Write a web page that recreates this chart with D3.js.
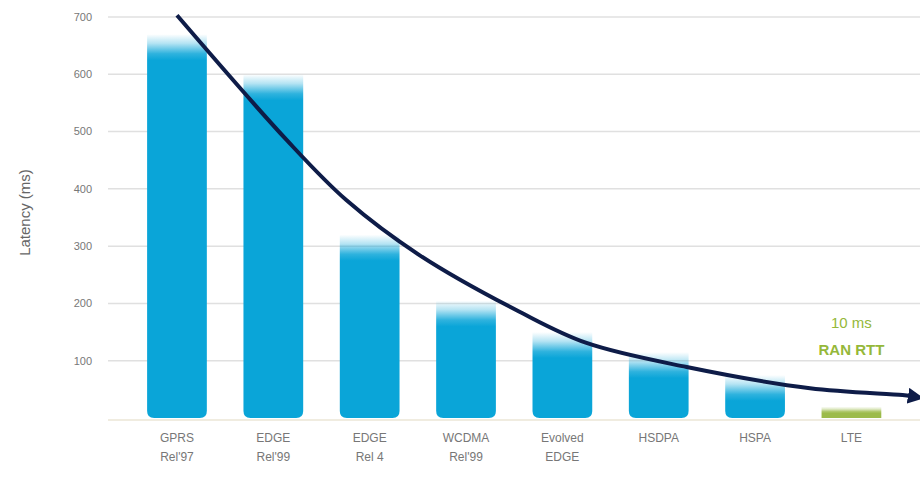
<!DOCTYPE html>
<html>
<head>
<meta charset="utf-8">
<script src="https://cdn.jsdelivr.net/npm/d3@7"></script>
<style>
  body { margin: 0; background: #fff; }
  svg { font-family: "Liberation Sans", Arial, sans-serif; }
</style>
</head>
<body>
<div id="chart"></div>
<script>
// bar data
const techs = ["GPRS\nRel'97", "EDGE\nRel'99", "EDGE\nRel 4", "WCDMA\nRel'99", "Evolved\nEDGE", "HSDPA", "HSPA", "LTE"];
const latency = [670, 600, 320, 205, 150, 115, 75, 20];
const yTicks = [100, 200, 300, 400, 500, 600, 700];

// trend arrow, x in bar-index units, y in ms
const trendIdx = [0, 1.14, 1.76, 2.52, 3.56, 4.25, 5.29, 6.57, 7.53, 7.62];
const trendVal = [703, 485, 380, 284, 185, 131, 89, 52, 40, 38];

const width = 920, height = 492;

const svg = d3.select("#chart").append("svg")
  .attr("width", width)
  .attr("height", height);

const x = d3.scaleBand()
  .domain(techs)
  .range([128.8, 899.6])
  .paddingInner(0.38)
  .paddingOuter(0.19);

const y = d3.scaleLinear().domain([0, 700]).range([418, 17]);

// index -> pixel for the trend line
const xi = d3.scaleLinear()
  .domain([0, 1])
  .range([x(techs[0]) + x.bandwidth() / 2, x(techs[1]) + x.bandwidth() / 2]);

// grid
svg.append("g")
  .selectAll("line")
  .data(yTicks)
  .join("line")
  .attr("x1", 108)
  .attr("x2", width)
  .attr("y1", (d) => y(d))
  .attr("y2", (d) => y(d))
  .attr("stroke", "#e0e0e0")
  .attr("stroke-width", 1.5);

svg.append("line")
  .attr("x1", 108).attr("x2", width)
  .attr("y1", y(0) + 2).attr("y2", y(0) + 2)
  .attr("stroke", "#ebe6d6")
  .attr("stroke-width", 1.5);

// y tick labels
svg.append("g")
  .selectAll("text")
  .data(yTicks)
  .join("text")
  .attr("x", 92)
  .attr("y", (d) => y(d))
  .attr("dy", "0.35em")
  .attr("text-anchor", "end")
  .attr("font-size", 11)
  .attr("fill", "#777")
  .text((d) => d);

svg.append("text")
  .attr("transform", `translate(30, ${(y(0) + y(700)) / 2 - 5}) rotate(-90)`)
  .attr("text-anchor", "middle")
  .attr("font-size", 15)
  .attr("fill", "#666")
  .text("Latency (ms)");

// gradients, one per bar so the fade is a fixed height
const defs = svg.append("defs");
const fade = 26;
techs.forEach((t, i) => {
  const col = i === techs.length - 1 ? "#9cbb4a" : "#0aa5d8";
  const top = y(latency[i]);
  const g = defs.append("linearGradient")
    .attr("id", "g" + i)
    .attr("gradientUnits", "userSpaceOnUse")
    .attr("x1", 0).attr("x2", 0)
    .attr("y1", top).attr("y2", top + Math.min(fade, (y(0) - top) * 0.6));
  g.append("stop").attr("offset", 0).attr("stop-color", col).attr("stop-opacity", 0);
  g.append("stop").attr("offset", 0.35).attr("stop-color", col).attr("stop-opacity", 0.3);
  g.append("stop").attr("offset", 0.75).attr("stop-color", col).attr("stop-opacity", 0.85);
  g.append("stop").attr("offset", 1).attr("stop-color", col).attr("stop-opacity", 1);
});

function barPath(d, i) {
  const x0 = x(techs[i]), w = x.bandwidth();
  const t = y(d), b = y(0);
  const r = i === techs.length - 1 ? 0 : 7;
  return `M${x0},${t}H${x0 + w}V${b - r}Q${x0 + w},${b} ${x0 + w - r},${b}` +
    `H${x0 + r}Q${x0},${b} ${x0},${b - r}Z`;
}

svg.append("g")
  .selectAll("path")
  .data(latency)
  .join("path")
  .attr("d", barPath)
  .attr("fill", (d, i) => `url(#g${i})`);

// x labels
const xl = svg.append("g")
  .selectAll("text")
  .data(techs)
  .join("text")
  .attr("x", (d) => x(d) + x.bandwidth() / 2)
  .attr("y", 442)
  .attr("text-anchor", "middle")
  .attr("font-size", 12)
  .attr("fill", "#777");
xl.selectAll("tspan")
  .data((d) => d.split("\n"))
  .join("tspan")
  .attr("x", function () { return d3.select(this.parentNode).attr("x"); })
  .attr("dy", (d, i) => (i === 0 ? 0 : 19))
  .text((d) => d);

// trend arrow
defs.append("marker")
  .attr("id", "arrow")
  .attr("viewBox", "0 0 10 10")
  .attr("refX", 2)
  .attr("refY", 5)
  .attr("markerWidth", 4)
  .attr("markerHeight", 4)
  .attr("orient", "auto")
  .append("path")
  .attr("d", "M0,0L10,5L0,10Z")
  .attr("fill", "#0e1c48");

const line = d3.line()
  .x((d) => xi(d[0]))
  .y((d) => y(d[1]))
  .curve(d3.curveCatmullRom);

svg.append("path")
  .datum(d3.zip(trendIdx, trendVal))
  .attr("d", line)
  .attr("fill", "none")
  .attr("stroke", "#0e1c48")
  .attr("stroke-width", 4)
  .attr("marker-end", "url(#arrow)");

// LTE note
const lx = x("LTE") + x.bandwidth() / 2;
svg.append("text")
  .attr("x", lx).attr("y", 328)
  .attr("text-anchor", "middle")
  .attr("font-size", 15)
  .attr("fill", "#95b83a")
  .text("10 ms");
svg.append("text")
  .attr("x", lx).attr("y", 355)
  .attr("text-anchor", "middle")
  .attr("font-size", 15)
  .attr("font-weight", "bold")
  .attr("fill", "#95b83a")
  .text("RAN RTT");
</script>
</body>
</html>
